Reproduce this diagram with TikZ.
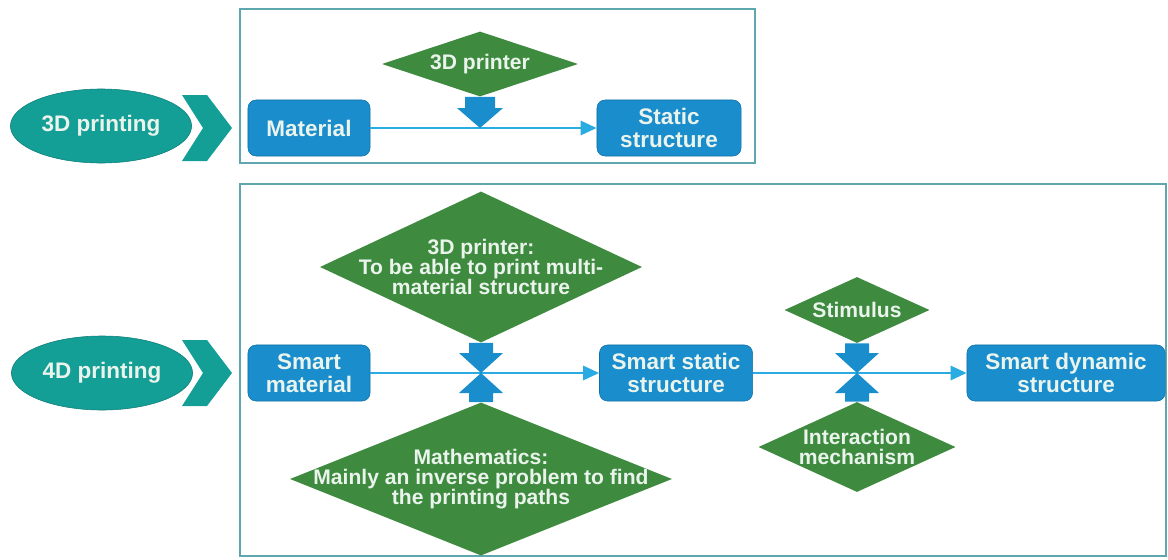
\documentclass[tikz,border=0pt]{standalone}
\usepackage{fontspec}
\setmainfont{Liberation Sans}
\usetikzlibrary{shapes.geometric,arrows.meta,calc}
\definecolor{tealfill}{HTML}{139E96}
\definecolor{boxblue}{HTML}{1A8DCC}
\definecolor{boxedge}{HTML}{0F6FA6}
\definecolor{dgreen}{HTML}{3E8B3F}
\definecolor{linkblue}{HTML}{2AACE2}
\definecolor{framecol}{HTML}{5FA7AE}
\definecolor{txtcol}{HTML}{EAF4EC}

% block arrow: start, tip, shaft half width, head half width, head base offset
\newcommand{\blockarr}[5]{%
  \fill[boxblue] ($(#1)+(-#3,0)$) -- ($(#1)+(#3,0)$) -- ($(#2)+(#3,#5)$)
    -- ($(#2)+(#4,#5)$) -- (#2) -- ($(#2)+(-#4,#5)$) -- ($(#2)+(-#3,#5)$) -- cycle;}

\begin{document}
\begin{tikzpicture}[x=0.025cm,y=-0.025cm,
         every node/.style = {font=\bfseries\fontsize{16}{16}\selectfont,
            text=txtcol, align=center},
         every label/.style = {font=\bfseries\fontsize{15}{14.5}\selectfont},
         tech/.style = {ellipse, fill=tealfill, draw=tealfill!80!black,
            minimum width=4.5cm, minimum height=1.85cm},
         stage/.style = {rectangle, rounded corners=0.2cm, fill=boxblue,
            draw=boxedge, minimum height=1.4cm},
         cond/.style = {diamond, fill=dgreen, inner sep=0pt},
         link/.style = {draw=linkblue, line width=0.07cm,
            -{Triangle[length=0.4cm,width=0.35cm]}},
         frame/.style = {draw=framecol, line width=0.05cm}
]
   \useasboundingbox (0,0) rectangle (1168,559);

   % frames
   \draw[frame] (240,9) rectangle (755,163);
   \draw[frame] (240,184) rectangle (1166,556);

   % chevrons
   \foreach \cy in {128,373}
      \fill[tealfill] (182,{\cy-33}) -- (207,{\cy-33}) -- (232,\cy)
         -- (207,{\cy+33}) -- (182,{\cy+33}) -- (203,\cy) -- cycle;

   % 3D printing
   \node[tech] (p3) at (101,126) {3D printing};
   \node[stage, minimum width=3.05cm] (mat) at (309,128) {Material};
   \node[stage, minimum width=3.6cm] (stat) at (669,128) {Static\\structure};
   \node[cond, minimum width=4.9cm, minimum height=1.625cm,
      label={center:3D printer}] (prn) at (480,64) {};
   \coordinate (m0) at (480,128);
   \draw[link] (mat) -- (stat);
   \blockarr{prn.south}{m0}{15}{23}{-20}

   % 4D printing
   \node[tech] (p4) at (102,373) {4D printing};
   \node[stage, minimum width=3.05cm] (smat) at (309,373) {Smart\\material};
   \node[stage, minimum width=3.825cm] (sstat) at (676,373) {Smart static\\structure};
   \node[stage, minimum width=4.95cm] (sdyn) at (1066,373) {Smart dynamic\\structure};
   \node[cond, minimum width=8.05cm, minimum height=3.775cm,
      label={center:{3D printer:\\To be able to print multi-\\material structure}}] (prn4) at (481,267) {};
   \node[cond, minimum width=9.55cm, minimum height=3.825cm,
      label={center:{Mathematics:\\Mainly an inverse problem to find\\the printing paths}}] (math) at (481,479) {};
   \node[cond, minimum width=3.625cm, minimum height=1.65cm,
      label={center:Stimulus}] (stim) at (857,310) {};
   \node[cond, minimum width=4.925cm, minimum height=2.25cm,
      label={center:{Interaction\\mechanism}}] (inter) at (857,447) {};
   \coordinate (m1) at (481,373);
   \coordinate (m2) at (857,373);

   \draw[link] (smat) -- (sstat);
   \draw[link] (sstat) -- (sdyn);
   \blockarr{prn4.south}{m1}{12}{22}{-20}
   \blockarr{math.north}{m1}{12}{22}{20}
   \blockarr{stim.south}{m2}{12}{22}{-20}
   \blockarr{inter.north}{m2}{12}{22}{20}
\end{tikzpicture}
\end{document}
